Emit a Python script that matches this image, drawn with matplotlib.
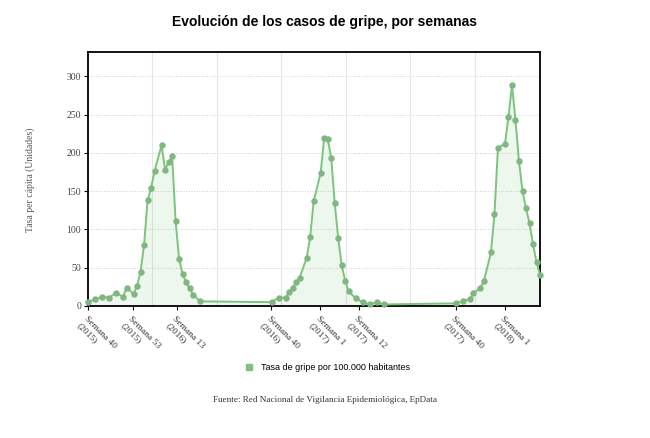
import numpy as np
import matplotlib
matplotlib.use("Agg")
import matplotlib.pyplot as plt
from matplotlib.lines import Line2D

# weeks counted from Semana 40 (2015)
season1_x = [0, 2, 4, 6, 8, 10, 11, 13, 14, 15, 16, 17, 18, 19, 21, 22, 23, 24, 25, 26, 27, 28, 29, 30, 32]
season1_y = [5, 9, 12, 11, 17, 12, 24, 16, 26, 45, 80, 138, 154, 177, 210, 178, 188, 196, 111, 61, 42, 31, 23, 15, 6]

season2_x = [52.4, 54.4, 56.4, 57.4, 58.4, 59.4, 60.4, 62.4, 63.4, 64.4, 66.4, 67.4, 68.4, 69.4,
             70.4, 71.4, 72.4, 73.4, 74.4, 76.4, 78.4, 80.4, 82.4, 84.4]
season2_y = [5, 11, 11, 18, 24, 31, 37, 63, 90, 137, 174, 220, 218, 194,
             135, 89, 53, 33, 19, 10, 5, 2, 5, 2]

season3_x = [105, 107, 109, 110, 112, 113, 115, 116, 117, 119, 120, 121, 122, 123,
             124, 125, 126, 127, 128, 129]
season3_y = [3.5, 6.5, 9, 16.5, 24, 33, 70, 120, 207, 212, 247, 289, 243, 189,
             150, 128, 108, 81, 57, 41]

tick_pos = [0, 12.7, 25.3, 52.2, 66.3, 77.2, 104.9, 118.9]
tick_labels = ["Semana 40\n(2015)", "Semana 53\n(2015)", "Semana 13\n(2016)",
               "Semana 40\n(2016)", "Semana 1\n(2017)", "Semana 12\n(2017)",
               "Semana 40\n(2017)", "Semana 1\n(2018)"]

x = np.array(season1_x + season2_x + season3_x)
y = np.array(season1_y + season2_y + season3_y)

green = "#7cc47c"
dot = "#80b680"

fig = plt.figure(figsize=(6.5, 4.38), dpi=100)
ax = fig.add_axes([0.1354, 0.3014, 0.6954, 0.5799])

ax.fill_between(x, y, 0, color=green, alpha=0.13, lw=0)
ax.plot(x, y, color=green, lw=1.4, marker="o", ms=3.6, mfc=dot, mec=dot, clip_on=False, zorder=3)

ax.set_xlim(0, 129)
ax.set_ylim(0, 332)

ax.set_xticks(tick_pos)
ax.set_xticklabels(tick_labels, rotation=-45, ha="left", va="top", rotation_mode="anchor",
                   family="Liberation Serif", fontsize=6.8, color="#333333", linespacing=1.3)
ax.set_xticks(np.arange(0, 129, 18.4), minor=True)
ax.tick_params(axis="x", which="minor", length=0)
ax.tick_params(axis="x", which="major", length=3, width=0.8, pad=3)
ax.grid(axis="x", which="minor", color="#e6e6e6", lw=0.8)

ax.set_yticks(np.arange(0, 301, 50))
for lab in ax.get_yticklabels():
    lab.set_family("Liberation Serif")
    lab.set_fontsize(7)
    lab.set_color("#444444")
ax.tick_params(axis="y", length=3, width=0.8, pad=2)
ax.grid(axis="y", color="#cccccc", lw=0.7, ls=":")
ax.set_axisbelow(True)

for s in ax.spines.values():
    s.set_linewidth(1.3)
    s.set_color("black")

fig.text(0.046, 0.59, "Tasa per cápita (Unidades)", rotation=90, ha="center", va="center",
         family="Liberation Serif", fontsize=7, color="#555555")

fig.text(0.5, 0.95, "Evolución de los casos de gripe, por semanas", ha="center", va="center",
         family="Liberation Sans", fontweight="bold", fontsize=10)

handle = Line2D([], [], ls="none", marker="s", ms=5, mfc=green, mec=green)
fig.legend([handle], ["Tasa de gripe por 100.000 habitantes"], loc="center",
           bbox_to_anchor=(0.5, 0.16), frameon=False, handletextpad=0.3,
           prop={"family": "Liberation Sans", "size": 6.5})

fig.text(0.5, 0.087, "Fuente: Red Nacional de Vigilancia Epidemiológica, EpData", ha="center", va="center",
         family="Liberation Serif", fontsize=6.6, color="#333333")

fig.savefig("out.png", dpi=100)
